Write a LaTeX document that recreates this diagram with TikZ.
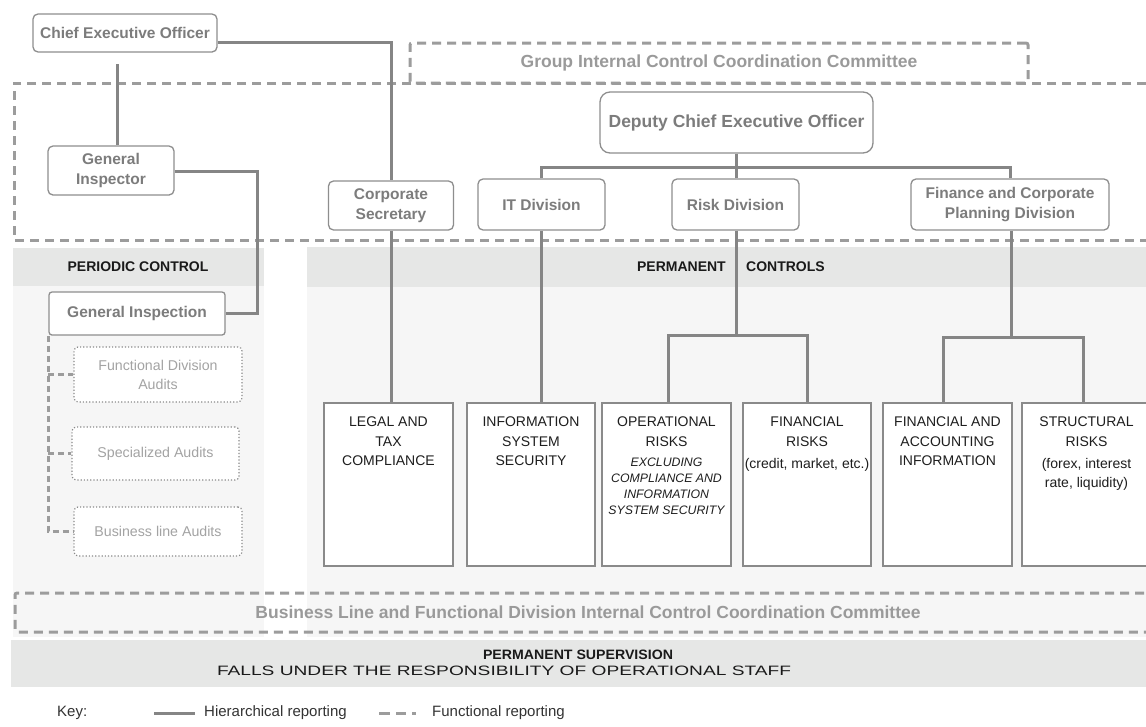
\documentclass[tikz,border=0pt]{standalone}
\usepackage{fontspec}
\setmainfont{Liberation Sans}
\usetikzlibrary{calc}
\definecolor{boxtext}{HTML}{7C7C7C}
\definecolor{bordercol}{HTML}{8E8E8E}
\definecolor{conncol}{HTML}{858585}
\definecolor{dashcol}{HTML}{9C9C9C}
\definecolor{commtext}{HTML}{9A9A9A}
\definecolor{audittext}{HTML}{A3A3A3}
\definecolor{auditborder}{HTML}{8A8A8A}
\definecolor{lowtext}{HTML}{1E1E1E}
\definecolor{lowborder}{HTML}{8A8A8A}
\definecolor{headtext}{HTML}{1A1A1A}
\definecolor{bandcol}{HTML}{E6E7E6}
\definecolor{lightcol}{HTML}{F6F6F6}
\definecolor{keytext}{HTML}{333333}
\begin{document}
\begin{tikzpicture}[x=1pt,y=-1pt,
  conn/.style={draw=conncol, line width=3pt},
  fdash/.style={draw=dashcol, line width=3pt, dash pattern=on 9pt off 6pt},
  adash/.style={draw=dashcol, line width=2.5pt, dash pattern=on 6pt off 4pt},
  rbox/.style={draw=bordercol, line width=1.3pt, rounded corners=5pt, fill=white, text=boxtext,
    font=\bfseries\fontsize{15.5}{20}\selectfont, align=center, inner sep=0pt},
  abox/.style={draw=auditborder, line width=1.2pt, dotted, rounded corners=4pt, fill=white, text=audittext,
    font=\fontsize{14.2}{19}\selectfont, align=center, inner sep=0pt},
  lowbox/.style={draw=lowborder, line width=1.3pt, fill=white, text=lowtext, inner sep=0pt,
    minimum height=163pt, font=\fontsize{14}{19.5}\selectfont},
  comm/.style={fdash, rounded corners=2pt, text=commtext, font=\bfseries\fontsize{17.5}{20}\selectfont, inner sep=0pt},
  head/.style={text=headtext, font=\bfseries\fontsize{14}{16}\selectfont, inner sep=0pt},
  keylab/.style={text=keytext, font=\fontsize{15}{18}\selectfont, inner sep=0pt}
]
\useasboundingbox (0,0) rectangle (1146,726);
\fill[white] (0,0) rectangle (1146,726);

% backgrounds
\fill[lightcol] (13,286) rectangle (264,637);
\fill[bandcol] (13,248) rectangle (264,286);
\fill[lightcol] (307,287) rectangle (1146,637);
\fill[bandcol] (307,247) rectangle (1146,287);
\fill[bandcol] (11,640) rectangle (1146,687);

% big dashed area
\draw[fdash] (1146,83) -- (14,83) -- (14,240) -- (1146,240);

% committees
\node[comm, minimum width=618pt, minimum height=40pt] (gicc) at (719,63) {Group Internal Control Coordination Committee};
\node[comm, minimum width=1146pt, minimum height=39pt] (blcc) at (588,612.5) {Business Line and Functional Division Internal Control Coordination Committee};

% headers
\node[head] (periodic) at (138,267) {PERIODIC CONTROL};
\node[head, anchor=east] (perm1) at (726,267) {PERMANENT};
\node[head, anchor=west] (perm2) at (746,267) {CONTROLS};

% top nodes
\node[rbox, minimum width=184pt, minimum height=38pt] (ceo) at (125,33) {Chief Executive Officer};
\node[rbox, minimum width=273pt, minimum height=61pt, rounded corners=10pt, font=\bfseries\fontsize{17.5}{20}\selectfont] (deputy) at (736.5,122.5) {Deputy Chief Executive Officer};
\node[rbox, minimum width=126pt, minimum height=49pt] (gi) at (111,170.5) {General\\Inspector};
\node[rbox, minimum width=125pt, minimum height=49pt] (cs) at (391,205.5) {Corporate\\Secretary};
\node[rbox, minimum width=127pt, minimum height=51pt] (itd) at (541.5,204.5) {IT Division};
\node[rbox, minimum width=127pt, minimum height=51pt] (risk) at (735.5,204.5) {Risk Division};
\node[rbox, minimum width=198pt, minimum height=51pt] (fin) at (1010,204.5) {Finance and Corporate\\Planning Division};

% periodic control
\node[rbox, minimum width=176pt, minimum height=43pt, rounded corners=3pt] (ginsp) at (137,313.5) {General Inspection};
\node[abox, minimum width=168pt, minimum height=55pt] (fda) at (158,374.5) {Functional Division\\Audits};
\node[abox, minimum width=167pt, minimum height=53pt] (spa) at (155.5,453.5) {Specialized Audits};
\node[abox, minimum width=168pt, minimum height=49pt] (bla) at (158,531.5) {Business line Audits};

% permanent controls boxes
\node[lowbox, minimum width=129pt] (legal) at (388.5,484.5)
  {\parbox[c][135pt][t]{128pt}{\centering LEGAL AND\\TAX\\COMPLIANCE\par}};
\node[lowbox, minimum width=128pt] (info) at (531,484.5)
  {\parbox[c][135pt][t]{128pt}{\centering INFORMATION\\SYSTEM\\SECURITY\par}};
\node[lowbox, minimum width=129pt] (ops) at (666.5,484.5)
  {\parbox[c][135pt][t]{129pt}{\centering OPERATIONAL\\RISKS\par\vspace{4pt}
   {\itshape\fontsize{12.3}{16}\selectfont EXCLUDING\\COMPLIANCE AND\\INFORMATION\\SYSTEM SECURITY\par}}};
\node[lowbox, minimum width=128pt] (finr) at (807,484.5)
  {\parbox[c][135pt][t]{128pt}{\centering FINANCIAL\\RISKS\\[2.5pt](credit, market, etc.)\par}};
\node[lowbox, minimum width=129pt] (finacc) at (947.5,484.5)
  {\parbox[c][135pt][t]{129pt}{\centering FINANCIAL AND\\ACCOUNTING\\INFORMATION\par}};
\node[lowbox, minimum width=129pt] (struct) at (1086.5,484.5)
  {\parbox[c][135pt][t]{129pt}{\centering STRUCTURAL\\RISKS\\[2.5pt](forex, interest\\rate, liquidity)\par}};

% supervision band texts
\node[inner sep=0pt, text=headtext] (sup1) at (578,655) {\resizebox{190pt}{9.5pt}{\bfseries PERMANENT SUPERVISION}};
\node[inner sep=0pt, text=headtext] (sup2) at (504,671) {\resizebox{574pt}{9.5pt}{FALLS UNDER THE RESPONSIBILITY OF OPERATIONAL STAFF}};

% connectors
\coordinate (ceoturn) at (391,42);
\draw[conn] (ceo.east |- ceoturn) -- (ceoturn) -- (cs.north);
\coordinate (ceogap) at (117,64);
\draw[conn] (ceogap) -- (ceogap |- gi.north);
\coordinate (giturn) at (257,171);
\draw[conn] (gi.east |- giturn) -- (giturn) |- (ginsp.east);
\coordinate (dj) at (736,167);
\draw[conn] (deputy.south -| dj) -- (dj);
\draw[conn] (itd.north) |- (dj) -| (fin.north);
\draw[conn] (risk.north -| dj) -- (dj);
\draw[conn] (cs.south) -- (cs.south |- legal.north);
\draw[conn] (itd.south) -- (itd.south |- info.north);
\coordinate (rj) at (736,335);
\draw[conn] (risk.south -| rj) -- (rj);
\draw[conn] (ops.north -| 668,0) |- (rj) -| (finr.north);
\coordinate (fj) at (1011,337);
\draw[conn] (fin.south -| fj) -- (fj);
\draw[conn] (finacc.north -| 943,0) |- (fj) -| (struct.north -| 1083,0);

% audit dashed connectors
\draw[adash] (ginsp.south west) |- (bla.west);
\draw[adash] (ginsp.south west |- fda.west) -- (fda.west);
\draw[adash] (ginsp.south west |- spa.west) -- (spa.west);

% key
\node[keylab, anchor=west] (key) at (57,713) {Key:};
\coordinate (k1) at (154,713);
\coordinate (k2) at (195,713);
\draw[conn] (k1) -- (k2);
\node[keylab, anchor=west] (hier) at (204,713) {Hierarchical reporting};
\coordinate (k3) at (379,713);
\coordinate (k4) at (420,713);
\draw[dashcol, line width=3pt, dash pattern=on 11pt off 6pt on 10pt off 6pt on 4pt off 10pt] (k3) -- (k4);
\node[keylab, anchor=west] (func) at (432,713) {Functional reporting};
\end{tikzpicture}
\end{document}
